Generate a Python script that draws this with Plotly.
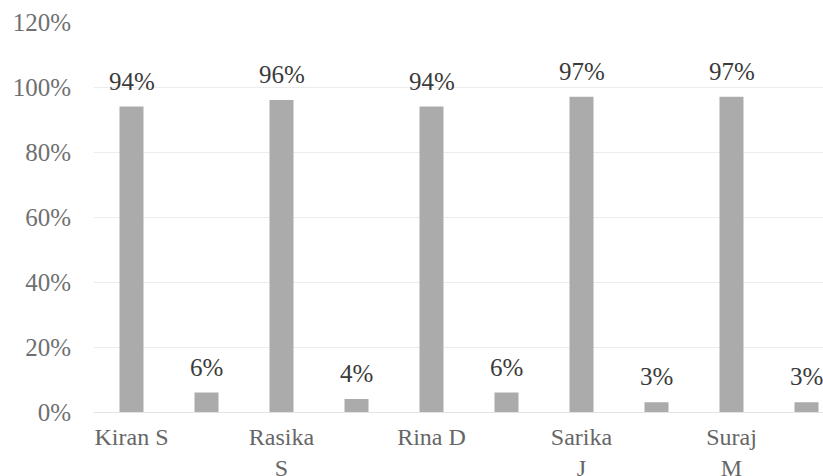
import plotly.graph_objects as go

students = ["Kiran S", "Rasika S", "Rina D", "Sarika J", "Suraj M"]
tick_labels = ["Kiran S", "Rasika<br>S", "Rina D", "Sarika<br>J", "Suraj<br>M"]
high_values = [0.94, 0.96, 0.94, 0.97, 0.97]
low_values = [0.06, 0.04, 0.06, 0.03, 0.03]
y_ticks = [0, 0.2, 0.4, 0.6, 0.8, 1.0, 1.2]

bar_color = "#ababab"
font_family = "Liberation Serif"

# interleave: each student's tall bar, then a small bar in the next slot
x_high = [2 * i for i in range(len(students))]
x_low = [2 * i + 1 for i in range(len(students))]

fig = go.Figure()
fig.add_trace(go.Bar(x=x_high, y=high_values, width=0.32, marker_color=bar_color,
                     marker_line_width=0, showlegend=False))
fig.add_trace(go.Bar(x=x_low, y=low_values, width=0.32, marker_color=bar_color,
                     marker_line_width=0, showlegend=False))

for xs, vs in ((x_high, high_values), (x_low, low_values)):
    for x, v in zip(xs, vs):
        fig.add_annotation(x=x, y=v, text=f"{round(v*100)}%", showarrow=False,
                           yanchor="bottom", yshift=10,
                           font=dict(family=font_family, size=25, color="#3a3a3a"))

fig.update_layout(
    width=823, height=476,
    margin=dict(l=94, r=0, t=22, b=64),
    paper_bgcolor="white", plot_bgcolor="white",
    barmode="overlay",
    font=dict(family=font_family, size=25, color="#666666"),
)
fig.update_xaxes(
    range=[-0.5, 9.22], tickmode="array", tickvals=x_high, ticktext=tick_labels,
    showgrid=False, zeroline=False, showline=False, ticks="",
    ticklabelstandoff=8, automargin=False,
    tickfont=dict(color="#666666", size=24),
)
fig.update_yaxes(
    range=[0, 1.2], tickmode="array", tickvals=y_ticks, tickformat=".0%",
    showgrid=True, gridcolor="#ececec", gridwidth=1, zeroline=True,
    zerolinecolor="#e2e2e2", zerolinewidth=1, ticks="",
    ticklabelstandoff=22, automargin=False, tickfont=dict(color="#707070"),
)

fig.write_html("out.html",
               config={"displayModeBar": False},
               post_script="document.body.style.margin='0';document.body.style.overflow='hidden';")
